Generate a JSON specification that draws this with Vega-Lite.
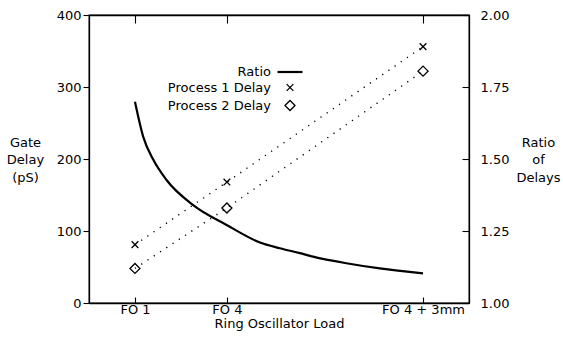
{
  "$schema": "https://vega.github.io/schema/vega-lite/v6.json",
  "width": 380,
  "height": 288,
  "autosize": {"type": "none"},
  "padding": {"left": 89, "top": 15, "right": 94, "bottom": 42},
  "background": "white",
  "datasets": {
    "delays": [
      {"load": 1, "series": "Process 1 Delay", "delay": 81},
      {"load": 4, "series": "Process 1 Delay", "delay": 168},
      {"load": 10.4, "series": "Process 1 Delay", "delay": 356},
      {"load": 1, "series": "Process 2 Delay", "delay": 48},
      {"load": 4, "series": "Process 2 Delay", "delay": 132},
      {"load": 10.4, "series": "Process 2 Delay", "delay": 322}
    ],
    "ratio": [
      {"load": 1, "ratio": 1.699},
      {"load": 1.27, "ratio": 1.577},
      {"load": 1.6, "ratio": 1.497},
      {"load": 2.03, "ratio": 1.427},
      {"load": 2.9, "ratio": 1.34},
      {"load": 3.99, "ratio": 1.271},
      {"load": 5.08, "ratio": 1.21},
      {"load": 5.73, "ratio": 1.19},
      {"load": 6.38, "ratio": 1.173},
      {"load": 6.81, "ratio": 1.161},
      {"load": 7.9, "ratio": 1.138},
      {"load": 8.99, "ratio": 1.12},
      {"load": 10.4, "ratio": 1.103}
    ]
  },
  "layer": [
    {
      "data": {"name": "delays"},
      "mark": {"type": "line", "color": "black", "strokeWidth": 1.4, "strokeDash": [1.2, 6.3]},
      "encoding": {
        "x": {
          "field": "load", "type": "quantitative",
          "scale": {"domain": [-0.5, 11.9], "nice": false, "zero": false},
          "axis": {
            "orient": "bottom", "values": [1, 4, 10.4],
            "labelExpr": "datum.value == 1 ? 'FO 1' : datum.value == 4 ? 'FO 4' : 'FO 4 + 3mm'",
            "tickSize": -6, "labelPadding": 6,
            "title": "Ring Oscillator Load", "titleBaseline": "top", "titleY": 14
          }
        },
        "y": {
          "field": "delay", "type": "quantitative",
          "scale": {"domain": [0, 400], "nice": false},
          "axis": {
            "orient": "left", "values": [0, 100, 200, 300, 400],
            "tickSize": 6, "labelPadding": 2,
            "title": ["Gate", "Delay", "(pS)"], "titleAngle": 0,
            "titleX": -64, "titleY": 127, "titleAlign": "center", "titleBaseline": "middle"
          }
        },
        "detail": {"field": "series"}
      }
    },
    {
      "data": {"name": "delays"},
      "mark": {"type": "point", "filled": false, "color": "black", "opacity": 1},
      "encoding": {
        "x": {"field": "load", "type": "quantitative", "axis": null},
        "y": {"field": "delay", "type": "quantitative", "scale": {"domain": [0, 400], "nice": false}, "axis": null},
        "shape": {
          "field": "series", "type": "nominal",
          "scale": {
            "domain": ["Ratio", "Process 1 Delay", "Process 2 Delay"],
            "range": ["stroke", "M-1,-1L1,1M-1,1L1,-1", "diamond"]
          },
          "legend": {
            "orient": "none", "legendX": 187, "legendY": 43, "title": null,
            "labelAlign": "right", "labelOffset": -33, "rowPadding": 2,
            "symbolStrokeColor": "black", "symbolFillColor": "transparent"
          }
        },
        "size": {
          "field": "series", "type": "nominal",
          "scale": {"type": "ordinal", "domain": ["Ratio", "Process 1 Delay", "Process 2 Delay"], "range": [625, 45, 100]}
        },
        "strokeWidth": {
          "field": "series", "type": "nominal",
          "scale": {"type": "ordinal", "domain": ["Ratio", "Process 1 Delay", "Process 2 Delay"], "range": [2.2, 1.3, 1.3]}
        }
      }
    },
    {
      "data": {"name": "ratio"},
      "mark": {"type": "line", "color": "black", "strokeWidth": 2.2, "interpolate": "monotone"},
      "encoding": {
        "x": {
          "field": "load", "type": "quantitative",
          "axis": {"orient": "top", "values": [1, 4, 10.4], "labels": false, "tickSize": -8, "title": null}
        },
        "y": {
          "field": "ratio", "type": "quantitative",
          "scale": {"domain": [1, 2], "nice": false, "zero": false},
          "axis": {
            "orient": "right", "values": [1, 1.25, 1.5, 1.75, 2], "format": ".2f",
            "tickSize": -7, "labelPadding": 18,
            "title": ["Ratio", "of", "Delays"], "titleAngle": 0,
            "titleX": 69, "titleY": 127, "titleAlign": "center", "titleBaseline": "middle"
          }
        }
      }
    }
  ],
  "resolve": {"scale": {"y": "independent"}, "axis": {"x": "independent", "y": "independent"}},
  "config": {
    "view": {"stroke": "black", "strokeWidth": 1.3},
    "font": "DejaVu Sans",
    "axis": {
      "grid": false,
      "domainColor": "black", "domainWidth": 1.3,
      "tickColor": "black", "tickWidth": 1.1,
      "labelColor": "black", "labelFont": "DejaVu Sans", "labelFontSize": 13,
      "titleColor": "black", "titleFont": "DejaVu Sans", "titleFontSize": 13,
      "titleFontWeight": "normal", "titleLineHeight": 17.5
    },
    "legend": {
      "labelFont": "DejaVu Sans", "labelFontSize": 13, "labelColor": "black"
    }
  }
}
